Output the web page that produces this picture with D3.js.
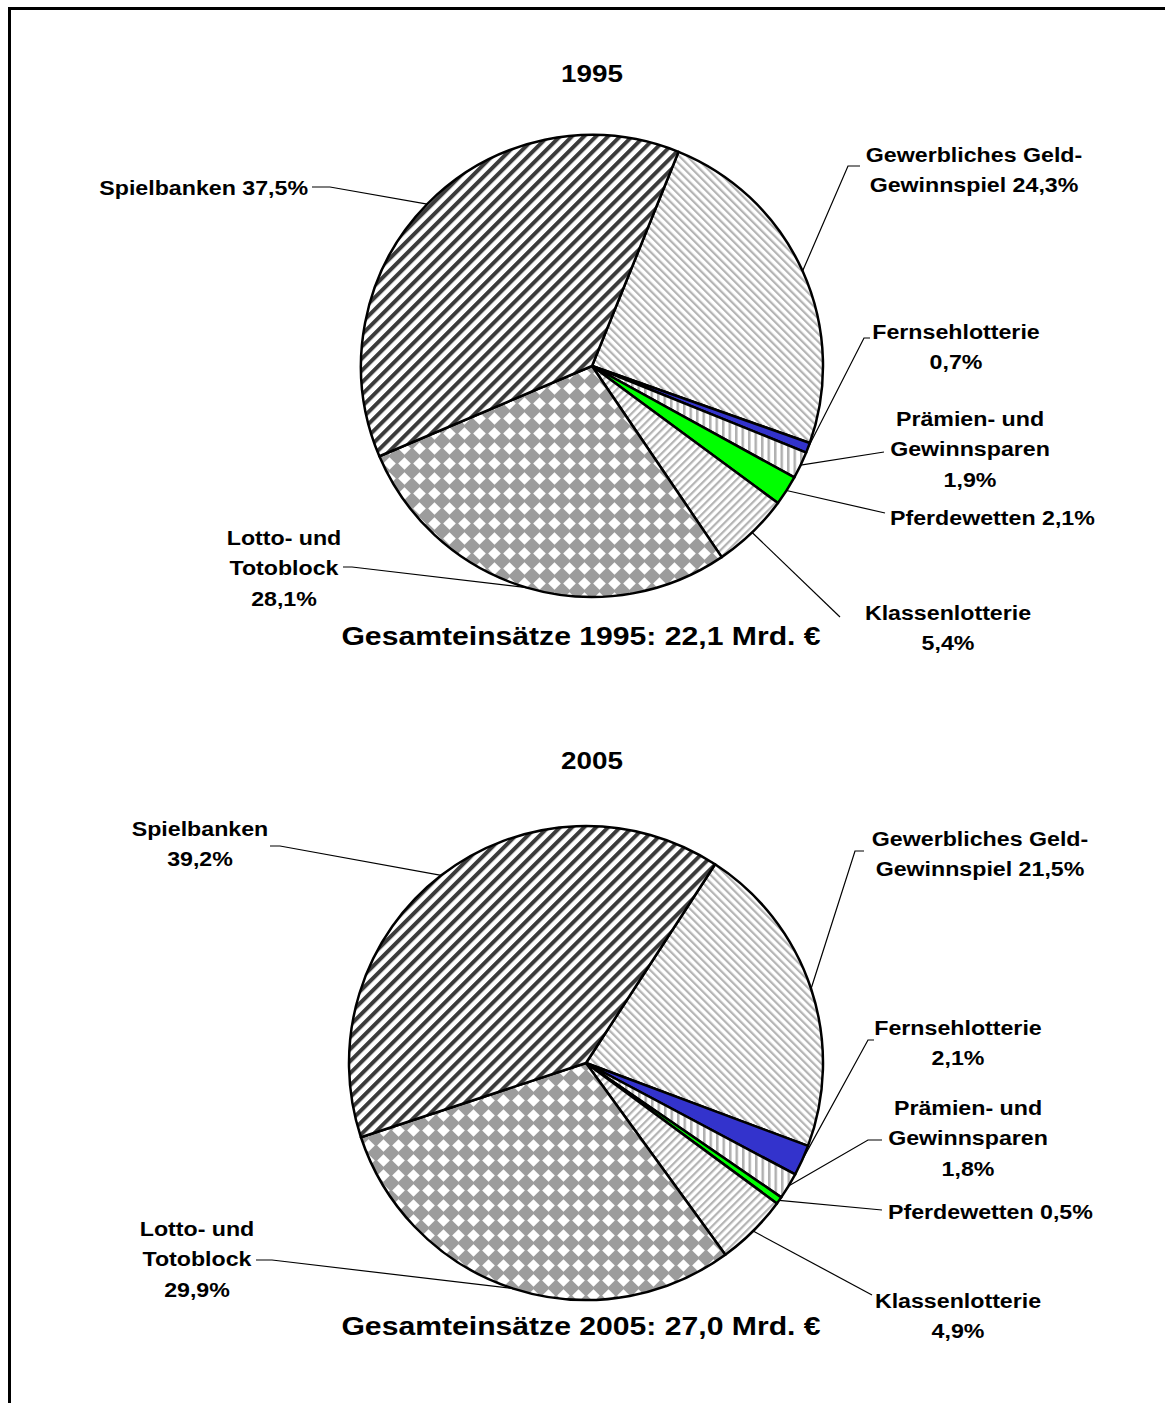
<!DOCTYPE html>
<html>
<head>
<meta charset="utf-8">
<script src="https://cdn.jsdelivr.net/npm/d3@7/dist/d3.min.js"></script>
<style>
  html, body { margin: 0; padding: 0; background: #fff; }
  svg { display: block; font-family: "Liberation Sans", Arial, sans-serif; font-weight: bold; }
</style>
</head>
<body>
<div id="chart"></div>
<script>
const categories = ["Gewerbliches Geld-Gewinnspiel", "Fernsehlotterie", "Prämien- und Gewinnsparen",
  "Pferdewetten", "Klassenlotterie", "Lotto- und Totoblock", "Spielbanken"];
const years = ["1995", "2005"];
const values1995 = [24.3, 0.7, 1.9, 2.1, 5.4, 28.1, 37.5];
const values2005 = [21.5, 2.1, 1.8, 0.5, 4.9, 29.9, 39.2];
const totals = ["22,1", "27,0"];

const fmt = v => String(v).replace(".", ",") + "%";

const W = 1165, H = 1403;
const SX = 1.16;      // text in the original is drawn a bit wide
const LH = 30.5;      // label line spacing
const svg = d3.select("#chart").append("svg").attr("width", W).attr("height", H);

// frame: top + left only
svg.append("path").attr("d", `M9.5,${H} V8.5 H${W}`).attr("fill", "none").attr("stroke", "#000").attr("stroke-width", 3);

// fill patterns
const defs = svg.append("defs");
function stripes(id, size, width, color, angle) {
  const p = defs.append("pattern").attr("id", id).attr("patternUnits", "userSpaceOnUse")
    .attr("width", size).attr("height", size).attr("patternTransform", `rotate(${angle})`);
  p.append("rect").attr("width", size).attr("height", size).attr("fill", "#fff");
  p.append("rect").attr("x", 0).attr("width", width).attr("height", size).attr("fill", color);
}
stripes("pSpiel", 8.5, 4, "#3a3a3a", 45);
stripes("pGewerb", 5.5, 2.2, "#b4b4b4", -45);
stripes("pPraem", 6.5, 2.5, "#b0b0b0", 0);
stripes("pKlass", 5.5, 2.2, "#b4b4b4", 45);
{
  const s = 15;
  const p = defs.append("pattern").attr("id", "pLotto").attr("patternUnits", "userSpaceOnUse")
    .attr("width", s).attr("height", s);
  p.append("rect").attr("width", s).attr("height", s).attr("fill", "#9c9c9c");
  p.append("path").attr("d", `M${s / 2},1.2 L${s - 1.2},${s / 2} L${s / 2},${s - 1.2} L1.2,${s / 2} Z`).attr("fill", "#fff");
}
const fills = ["url(#pGewerb)", "#3333cc", "url(#pPraem)", "#00ff00", "url(#pKlass)", "url(#pLotto)", "url(#pSpiel)"];

const charts = [
  {
    year: years[0], values: values1995, total: totals[0],
    cx: 592, cy: 366, r: 231, start: 22,
    titleY: 82, subY: 645,
    labels: [
      { lines: ["Gewerbliches Geld-", "Gewinnspiel "], x: 974, y: 162, anchor: "middle", path: [[848, 166], [860, 166]] },
      { lines: ["Fernsehlotterie", ""], x: 956, y: 339, anchor: "middle", path: [[864, 338], [870, 338]] },
      { lines: ["Prämien- und", "Gewinnsparen", ""], x: 970, y: 426, anchor: "middle", path: [[884, 452]] },
      { lines: ["Pferdewetten "], x: 890, y: 525, anchor: "start", path: [[885, 513]] },
      { lines: ["Klassenlotterie", ""], x: 948, y: 620, anchor: "middle", path: [[840, 617]] },
      { lines: ["Lotto- und", "Totoblock", ""], x: 284, y: 545, anchor: "middle", path: [[352, 567], [343, 567]] },
      { lines: ["Spielbanken "], x: 308, y: 195, anchor: "end", path: [[330, 187], [312, 187]] }
    ]
  },
  {
    year: years[1], values: values2005, total: totals[1],
    cx: 586, cy: 1063, r: 237, start: 33,
    titleY: 769, subY: 1335,
    labels: [
      { lines: ["Gewerbliches Geld-", "Gewinnspiel "], x: 980, y: 846, anchor: "middle", path: [[855, 851], [864, 851]] },
      { lines: ["Fernsehlotterie", ""], x: 958, y: 1035, anchor: "middle", path: [[868, 1040], [874, 1040]] },
      { lines: ["Prämien- und", "Gewinnsparen", ""], x: 968, y: 1115, anchor: "middle", path: [[868, 1140], [882, 1140]] },
      { lines: ["Pferdewetten "], x: 888, y: 1219, anchor: "start", path: [[882, 1210]] },
      { lines: ["Klassenlotterie", ""], x: 958, y: 1308, anchor: "middle", path: [[872, 1295]] },
      { lines: ["Lotto- und", "Totoblock", ""], x: 197, y: 1236, anchor: "middle", path: [[272, 1260], [256, 1260]] },
      { lines: ["Spielbanken", ""], x: 200, y: 836, anchor: "middle", path: [[280, 846], [270, 846]] }
    ]
  }
];

const rad = a => a * Math.PI / 180;

function wideText(parent, x, y, size, anchor) {
  return parent.append("text")
    .attr("transform", `translate(${x},${y}) scale(${SX},1)`)
    .attr("text-anchor", anchor).attr("font-size", size);
}

charts.forEach(c => {
  const g = svg.append("g");
  const pie = d3.pie().sort(null).value(d => d)
    .startAngle(rad(c.start)).endAngle(rad(c.start + 360));
  const arcs = pie(c.values);
  const arc = d3.arc().innerRadius(0).outerRadius(c.r);

  wideText(g, 592, c.titleY, 24, "middle").text(c.year);

  const pg = g.append("g").attr("transform", `translate(${c.cx},${c.cy})`);
  pg.selectAll("path").data(arcs).join("path")
    .attr("d", arc)
    .attr("fill", (d, i) => fills[i])
    .attr("stroke", "#000").attr("stroke-width", 2.5).attr("stroke-linejoin", "round");

  // leader lines from slice mid-angle on the rim
  const line = d3.line();
  g.selectAll("path.leader").data(arcs).join("path").attr("class", "leader")
    .attr("d", (d, i) => {
      const m = (d.startAngle + d.endAngle) / 2;
      const p0 = [c.cx + c.r * Math.sin(m), c.cy - c.r * Math.cos(m)];
      return line([p0, ...c.labels[i].path]);
    })
    .attr("fill", "none").attr("stroke", "#000").attr("stroke-width", 1.2);

  c.labels.forEach((lb, i) => {
    const t = wideText(g, lb.x, lb.y, 20, lb.anchor);
    const n = lb.lines.length;
    lb.lines.forEach((s, k) => {
      t.append("tspan").attr("x", 0).attr("dy", k === 0 ? 0 : LH)
        .text(k === n - 1 ? s + fmt(c.values[i]) : s);
    });
  });

  wideText(g, 581, c.subY, 26, "middle").text(`Gesamteinsätze ${c.year}: ${c.total} Mrd. €`);
});
</script>
</body>
</html>
